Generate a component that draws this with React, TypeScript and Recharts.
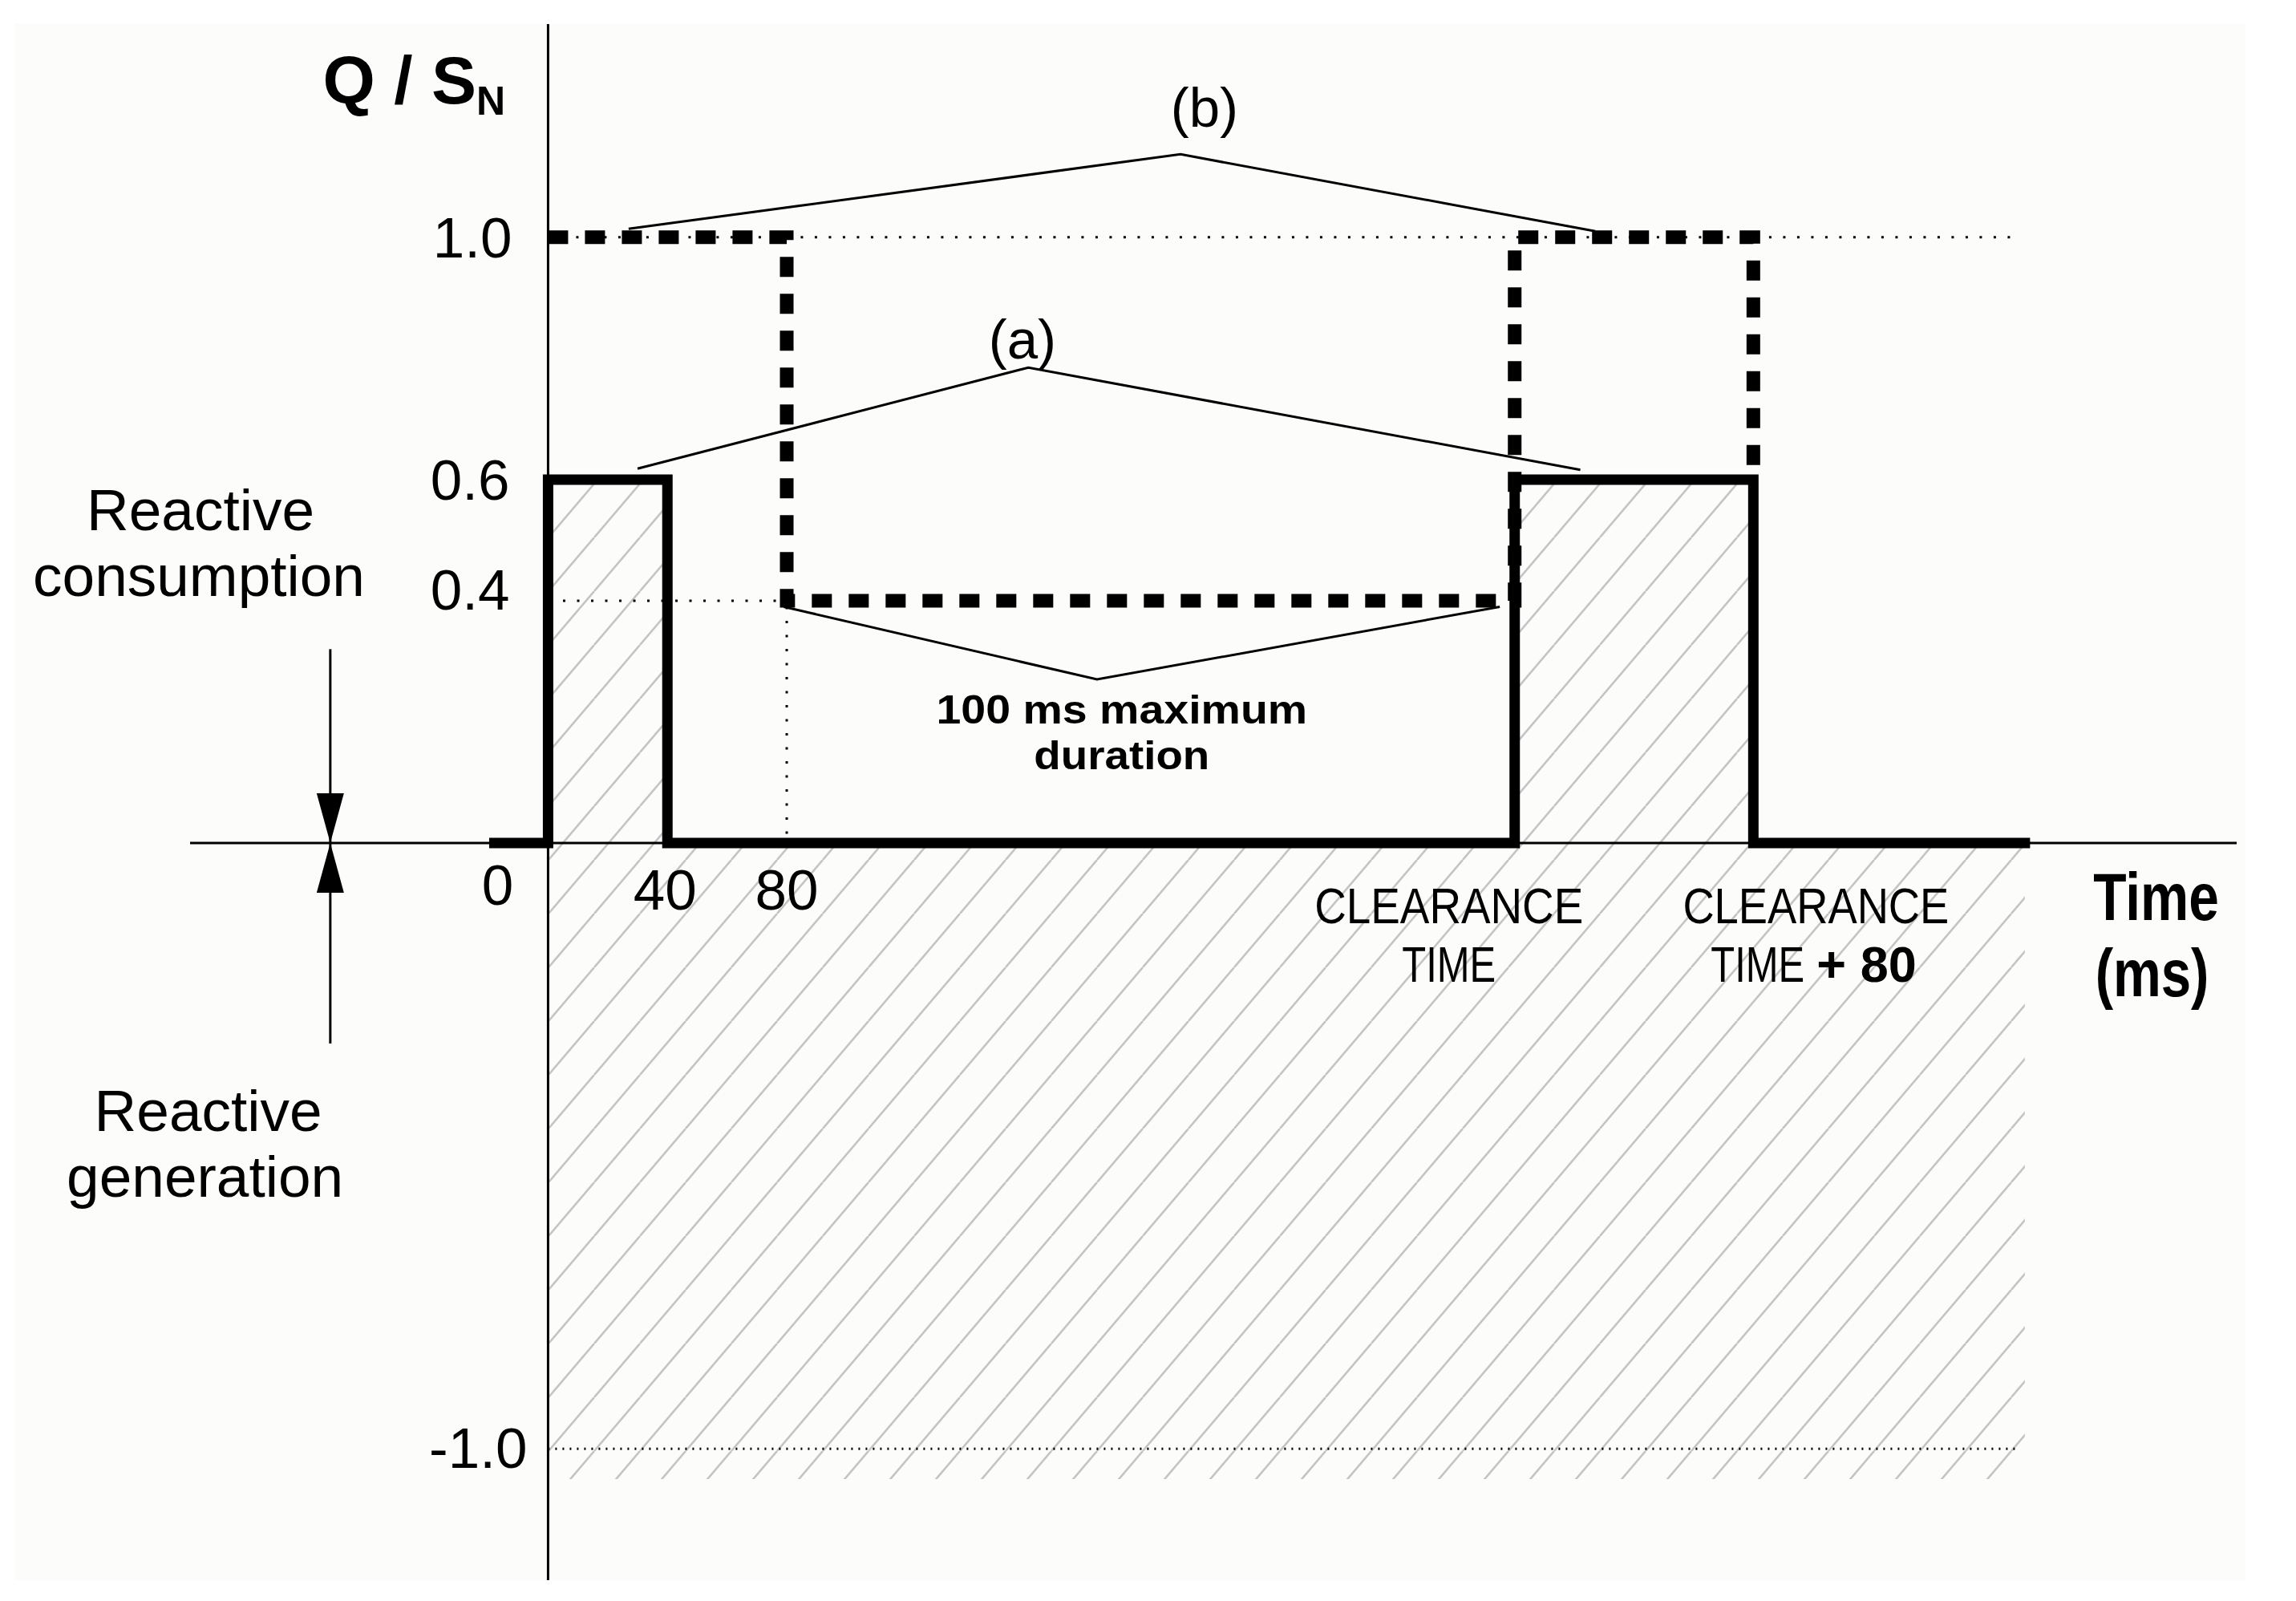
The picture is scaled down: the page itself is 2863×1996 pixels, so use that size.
import React from 'react';
import { ComposedChart, Line, Area, XAxis, YAxis, ReferenceLine, ReferenceDot } from 'recharts';

const W = 2863;
const H = 1996;
const FONT = '"Liberation Sans", Arial, Helvetica, sans-serif';

// ---- data ----
const CT = 324; // clearance time (schematic, ms)
const CT80 = 404; // clearance time + 80 ms
const T_END = 495;

const timeTicks = [0, 40, 80, CT, CT80];
const timeTickLabels = [['0'], ['40'], ['80'], ['CLEARANCE', 'TIME'], ['CLEARANCE', 'TIME', '+ 80']];
const qTicks = [1.0, 0.6, 0.4, -1.0];
const qTickLabels = ['1.0', '0.6', '0.4', '-1.0'];

// (a) solid curve
const curveA = [
  { x: -18, y: 0 }, { x: 0, y: 0 }, { x: 0, y: 0.6 }, { x: 40, y: 0.6 }, { x: 40, y: 0 },
  { x: CT, y: 0 }, { x: CT, y: 0.6 }, { x: CT80, y: 0.6 }, { x: CT80, y: 0 }, { x: T_END, y: 0 },
];
// (b) dashed curve
const curveB = [
  { x: 0, y: 1.0 }, { x: 80, y: 1.0 }, { x: 80, y: 0.4 }, { x: CT, y: 0.4 },
  { x: CT, y: 1.0 }, { x: CT80, y: 1.0 }, { x: CT80, y: 0.6 },
];
// hatched permitted region (upper envelope, floor)
const envelope = [
  { x: 0, y: 0.6 }, { x: 40, y: 0.6 }, { x: 40, y: 0 }, { x: CT, y: 0 }, { x: CT, y: 0.6 },
  { x: CT80, y: 0.6 }, { x: CT80, y: 0 }, { x: T_END, y: 0 },
];
const envelopeFloor = -1.05;

// leader lines
const leaderA = [{ x: 30, y: 0.618 }, { x: 161, y: 0.785 }, { x: 346, y: 0.616 }];
const leaderB = [{ x: 27, y: 1.014 }, { x: 212, y: 1.137 }, { x: 351, y: 1.01 }];
const leaderDur = [{ x: 79, y: 0.39 }, { x: 184, y: 0.27 }, { x: 319, y: 0.39 }];

// dotted guide lines
const guideEnd = 492;

// arrows marker position
const arrowX = -73;
const arrowTop = 0.32;
const arrowBottom = -0.331;

type TL = {
  text: React.ReactNode; dx?: number; dy?: number; size: number;
  weight?: string; anchor?: string; sx?: number;
};

const makeText = (items: TL[]) => (p: any) => (
  <g>
    {items.map((it, i) => {
      const x = p.cx + (it.dx || 0);
      const y = p.cy + (it.dy || 0);
      return (
        <text
          key={i}
          transform={`translate(${x},${y}) scale(${it.sx || 1},1)`}
          x={0}
          y={0}
          fontFamily={FONT}
          fontSize={it.size}
          fontWeight={it.weight || 'normal'}
          textAnchor={it.anchor || 'middle'}
          fill="#000"
        >
          {it.text}
        </text>
      );
    })}
  </g>
);

const yTickStyle: Record<string, { dx: number; dy: number }> = {
  '1.0': { dx: -45, dy: 25 },
  '0.6': { dx: -48, dy: 25 },
  '0.4': { dx: -48, dy: 11 },
  '-1.0': { dx: -26, dy: 24 },
};

const xTickStyle: any[][] = [
  [{ dx: -63, dy: 77, size: 71 }],
  [{ dx: -3, dy: 83, size: 71 }],
  [{ dx: 0, dy: 83, size: 71 }],
  [{ dx: -82, dy: 100, size: 63, sx: 0.87 }, { dx: -82, dy: 173, size: 63, sx: 0.777 }],
  [
    { dx: 78, dy: 100, size: 63, sx: 0.862 },
    { dx: -53, dy: 173, size: 63, sx: 0.777, anchor: 'start' },
    { dx: 79, dy: 173, size: 63, anchor: 'start', weight: 'bold' },
  ],
];

const arrowShape = (p: any) => {
  const hw = 17;
  const hl = 62;
  return (
    <g>
      <polygon points={`${p.cx - hw},${p.cy - hl} ${p.cx + hw},${p.cy - hl} ${p.cx},${p.cy}`} fill="#000" />
      <polygon points={`${p.cx - hw},${p.cy + hl} ${p.cx + hw},${p.cy + hl} ${p.cx},${p.cy}`} fill="#000" />
    </g>
  );
};

export default function App() {
  return (
    <div style={{ position: 'absolute', left: 0, top: 0, width: W, height: H, background: '#ffffff' }}>
      <div style={{ position: 'absolute', left: 18, top: 29, width: 2782, height: 1941, background: '#fcfcfa' }} />
      <div style={{ position: 'absolute', left: 0, top: 0 }}>
        <ComposedChart width={W} height={H} margin={{ top: 30, right: 74, bottom: 26, left: 237 }}>
          <defs>
            <pattern id="hatch" patternUnits="userSpaceOnUse" width="57" height="67">
              <path d="M-57,67 L0,0 M0,67 L57,0 M57,67 L114,0" stroke="#c4c4c4" strokeWidth="2.6" />
            </pattern>
          </defs>
          <XAxis dataKey="x" type="number" domain={[-120, 566]} allowDataOverflow hide />
          <YAxis type="number" domain={[-1.217, 1.352]} allowDataOverflow hide />

          <Area
            data={envelope}
            dataKey="y"
            type="linear"
            baseValue={envelopeFloor}
            stroke="none"
            fill="url(#hatch)"
            fillOpacity={1}
            isAnimationActive={false}
            dot={false}
            activeDot={false}
          />

          {/* dotted guides */}
          <ReferenceLine segment={[{ x: 0, y: 1.0 }, { x: guideEnd, y: 1.0 }]} stroke="#000" strokeWidth={3} strokeDasharray="3 14.5" />
          <ReferenceLine segment={[{ x: 5, y: 0.4 }, { x: 80, y: 0.4 }]} stroke="#000" strokeWidth={3} strokeDasharray="3 14.5" />
          <ReferenceLine segment={[{ x: 80, y: 0.39 }, { x: 80, y: 0.015 }]} stroke="#000" strokeWidth={3} strokeDasharray="3 14.5" />
          <ReferenceLine segment={[{ x: 0, y: -1.0 }, { x: guideEnd, y: -1.0 }]} stroke="#000" strokeWidth={3} strokeDasharray="2 7" />

          {/* axes */}
          <ReferenceLine x={0} stroke="#000" strokeWidth={3} />
          <ReferenceLine y={0} stroke="#000" strokeWidth={3} />

          {/* reactive arrows */}
          <ReferenceLine segment={[{ x: arrowX, y: arrowTop }, { x: arrowX, y: 0 }]} stroke="#000" strokeWidth={3} />
          <ReferenceLine segment={[{ x: arrowX, y: 0 }, { x: arrowX, y: arrowBottom }]} stroke="#000" strokeWidth={3} />
          <ReferenceDot x={arrowX} y={0} r={1} shape={arrowShape} />

          {/* leader lines */}
          <Line data={leaderA} dataKey="y" type="linear" stroke="#000" strokeWidth={3} dot={false} activeDot={false} isAnimationActive={false} />
          <Line data={leaderB} dataKey="y" type="linear" stroke="#000" strokeWidth={3} dot={false} activeDot={false} isAnimationActive={false} />
          <Line data={leaderDur} dataKey="y" type="linear" stroke="#000" strokeWidth={3} dot={false} activeDot={false} isAnimationActive={false} />

          {/* curves */}
          <Line data={curveB} dataKey="y" type="linear" stroke="#000" strokeWidth={17} strokeDasharray="25 21" strokeLinejoin="miter" strokeLinecap="butt" dot={false} activeDot={false} isAnimationActive={false} />
          <Line data={curveA} dataKey="y" type="linear" stroke="#000" strokeWidth={13} strokeLinejoin="miter" strokeLinecap="square" dot={false} activeDot={false} isAnimationActive={false} />

          {/* Y tick labels */}
          {qTicks.map((v, i) => (
            <ReferenceDot
              key={`yt${i}`}
              x={0}
              y={v}
              r={1}
              shape={makeText([{ text: qTickLabels[i], size: 71, anchor: 'end', dx: yTickStyle[qTickLabels[i]].dx, dy: yTickStyle[qTickLabels[i]].dy }])}
            />
          ))}

          {/* X tick labels */}
          {timeTicks.map((t, i) => (
            <ReferenceDot
              key={`xt${i}`}
              x={t}
              y={0}
              r={1}
              shape={makeText(timeTickLabels[i].map((s, j) => ({ text: s, ...xTickStyle[i][j] })))}
            />
          ))}

          {/* axis titles and annotations */}
          <ReferenceDot x={-75.5} y={1.221} r={1} shape={makeText([{ text: (<>Q / S<tspan fontSize={50} dy={14}>N</tspan></>), size: 84, weight: 'bold', anchor: 'start' }])} />
          <ReferenceDot x={539} y={-0.127} r={1} shape={makeText([{ text: 'Time', size: 84, weight: 'bold', sx: 0.806 }, { text: '(ms)', size: 84, weight: 'bold', sx: 0.8, dy: 95, dx: -5 }])} />
          <ReferenceDot x={-116.5} y={0.5166} r={1} shape={makeText([{ text: 'Reactive', size: 73 }, { text: 'consumption', size: 73, dy: 82, dx: -2 }])} />
          <ReferenceDot x={-115} y={-0.4755} r={1} shape={makeText([{ text: 'Reactive', size: 73, dx: 4 }, { text: 'generation', size: 73, dy: 82 }])} />
          <ReferenceDot x={159} y={0.8} r={1} shape={makeText([{ text: '(a)', size: 69 }])} />
          <ReferenceDot x={220} y={1.183} r={1} shape={makeText([{ text: '(b)', size: 69 }])} />
          <ReferenceDot x={192.3} y={0.196} r={1} shape={makeText([{ text: '100 ms maximum', size: 50, weight: 'bold', sx: 1.11, dy: -1 }, { text: 'duration', size: 50, weight: 'bold', sx: 1.095, dy: 56 }])} />
        </ComposedChart>
      </div>
    </div>
  );
}
